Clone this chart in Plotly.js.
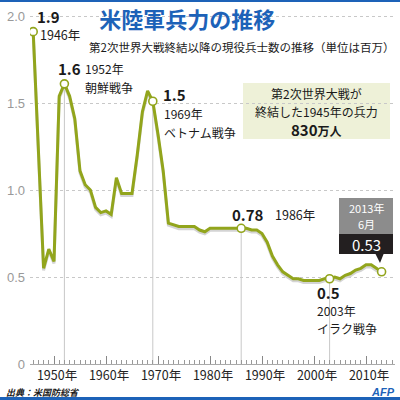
<!DOCTYPE html>
<html>
<head>
<meta charset="utf-8">
<script src="https://cdn.plot.ly/plotly-3.0.1.min.js"></script>
<style>html,body{margin:0;padding:0;background:#fff;}#chart{width:400px;height:400px;}</style>
</head>
<body>
<div id="chart"></div>
<script>
// ---- data ----
const years = [1946, 1948, 1949, 1950, 1951, 1952, 1953, 1954, 1955, 1956, 1957, 1958, 1959,
  1960, 1961, 1962, 1963, 1964, 1965, 1966, 1967, 1968, 1969, 1970, 1971, 1972, 1973, 1974,
  1975, 1976, 1977, 1978, 1979, 1980, 1981, 1982, 1983, 1984, 1985, 1986, 1987, 1988, 1989,
  1990, 1991, 1992, 1993, 1994, 1995, 1996, 1997, 1998, 1999, 2000, 2001, 2002, 2003, 2004,
  2005, 2006, 2007, 2008, 2009, 2010, 2011, 2012, 2013];
const values = [1.91, 0.55, 0.66, 0.59, 1.54, 1.61, 1.54, 1.41, 1.11, 1.03, 1.00, 0.90, 0.87,
  0.88, 0.86, 1.07, 0.98, 0.98, 0.98, 1.20, 1.45, 1.57, 1.51, 1.32, 1.11, 0.81, 0.80, 0.79,
  0.79, 0.79, 0.79, 0.77, 0.76, 0.78, 0.78, 0.78, 0.78, 0.78, 0.78, 0.78, 0.78, 0.77, 0.77,
  0.75, 0.70, 0.62, 0.57, 0.53, 0.51, 0.49, 0.49, 0.48, 0.48, 0.48, 0.48, 0.49, 0.49, 0.50,
  0.49, 0.51, 0.52, 0.54, 0.55, 0.57, 0.57, 0.55, 0.53];
const highlightYears = [1946, 1952, 1969, 1986, 2003, 2013];
const highlightLabels = ['1.9', '1.6', '1.5', '0.78', '0.5', '0.53'];
const highlightNotes = [['1946年'], ['1952年', '朝鮮戦争'], ['1969年', 'ベトナム戦争'], ['1986年'], ['2003年', 'イラク戦争'], ['2013年', '6月']];
const dropLineYears = [1952, 1969, 1986, 2003];
const tickYears = [1950, 1960, 1970, 1980, 1990, 2000, 2010];
const tickLabels = ['1950年', '1960年', '1970年', '1980年', '1990年', '2000年', '2010年'];
const yTickVals = [0, 0.5, 1.0, 1.5, 2.0];
const yTickLabels = ['0', '0.5', '1.0', '1.5', '2.0'];
const titleText = '米陸軍兵力の推移';
const subtitleText = '第2次世界大戦終結以降の現役兵士数の推移（単位は百万）';
const boxLines = ['第2次世界大戦が', '終結した1945年の兵力'];
const boxValue = '830';
const boxUnit = '万人';
const sourceText = '出典：米国防総省';

// ---- derived ----
const valueAt = y => values[years.indexOf(y)];
const highlightValues = highlightYears.map(valueAt);
const dropX = [], dropY = [];
dropLineYears.forEach(y => { dropX.push(y, y, null); dropY.push(0, valueAt(y), null); });

const FONT = '"Noto Sans CJK JP", "Noto Sans", sans-serif';
const GREEN = '#92a51c';
const L = 30, R = 5, T = 10, B = 36, W = 400, H = 400;
const PX = p => (p - L) / (W - L - R);
const PY = p => (H - B - p) / (H - T - B);

const traces = [
  {x: dropX, y: dropY, mode: 'lines', line: {color: '#c8c8c8', width: 1}, hoverinfo: 'skip'},
  {x: years, y: values.map(v => v - 0.012), mode: 'lines', line: {color: '#d4d4d4', width: 3}, hoverinfo: 'skip'},
  {x: years, y: values, mode: 'lines', line: {color: GREEN, width: 3}},
  {x: highlightYears, y: highlightValues, mode: 'markers',
   marker: {size: 8, color: '#ffffff', line: {color: GREEN, width: 1.6}}}
];

const ann = [];
function txt(x, y, text, size, opts) {
  ann.push(Object.assign({xref: 'paper', yref: 'paper', x: PX(x), y: PY(y), text: text,
    showarrow: false, xanchor: 'left', yanchor: 'middle', borderpad: 0,
    font: {family: FONT, size: size, color: '#1a1a1a'}}, opts || {}));
}
function lines(x, y0, step, arr, size, opts) {
  arr.forEach((t, i) => txt(x, y0 + i * step, t, size, opts));
}
// highlight labels
txt(36, 17, '<b>' + highlightLabels[0] + '</b>', 15);
lines(39, 34, 18, highlightNotes[0], 12.5);
txt(57, 69, '<b>' + highlightLabels[1] + '</b>', 15);
lines(84, 69, 18, highlightNotes[1], 12);
txt(162, 95, '<b>' + highlightLabels[2] + '</b>', 15);
lines(163, 114, 18, highlightNotes[2], 12);
txt(231, 214, '<b>' + highlightLabels[3] + '</b>', 15);
lines(274, 214, 18, highlightNotes[3], 12.5);
txt(316, 292, '<b>' + highlightLabels[4] + '</b>', 15);
lines(316, 310, 18, highlightNotes[4], 12);
// callout
lines(366, 208, 16, highlightNotes[5], 11, {xanchor: 'center', font: {family: FONT, size: 11, color: '#ffffff'}});
txt(366, 244, highlightLabels[5], 15, {xanchor: 'center', font: {family: FONT, size: 15, color: '#ffffff'}});
// info box
txt(316, 93, boxLines[0], 12, {xanchor: 'center'});
txt(316, 111, boxLines[1], 12, {xanchor: 'center'});
txt(316, 129, '<b><span style="font-size:15px">' + boxValue + '</span>' + boxUnit + '</b>', 12, {xanchor: 'center'});
// subtitle
txt(395, 47, subtitleText, 11.5, {xanchor: 'right'});
// source & logo
txt(5, 392, '<b><i>' + sourceText + '</i></b>', 9);
txt(396, 392, '<b><i>AFP</i></b>', 11, {xanchor: 'right', font: {family: '"Liberation Sans", Arial, sans-serif', size: 11, color: '#1d62b8'}});

const shapes = [
  {type: 'rect', xref: 'paper', yref: 'paper', x0: PX(243), x1: PX(390), y0: PY(139), y1: PY(83),
   fillcolor: '#eef1d8', line: {width: 0}, layer: 'below'},
  {type: 'rect', xref: 'paper', yref: 'paper', x0: PX(339), x1: PX(393), y0: PY(234), y1: PY(198),
   fillcolor: '#8c8c8c', line: {width: 0}},
  {type: 'rect', xref: 'paper', yref: 'paper', x0: PX(339), x1: PX(393), y0: PY(254), y1: PY(234),
   fillcolor: '#231f20', line: {width: 0}},
  {type: 'path', xref: 'paper', yref: 'paper',
   path: 'M ' + PX(375) + ' ' + PY(253) + ' L ' + PX(384) + ' ' + PY(253) + ' L ' + PX(380) + ' ' + PY(263) + ' Z',
   fillcolor: '#231f20', line: {width: 0}},
  {type: 'rect', xref: 'paper', yref: 'paper', x0: PX(0), x1: PX(400), y0: PY(2), y1: PY(0),
   fillcolor: '#1d62b8', line: {width: 0}},
  {type: 'rect', xref: 'paper', yref: 'paper', x0: PX(0), x1: PX(400), y0: PY(400), y1: PY(397),
   fillcolor: '#1d62b8', line: {width: 0}}
];

const layout = {
  width: W, height: H,
  margin: {l: L, r: R, t: T, b: B, pad: 0},
  paper_bgcolor: '#ffffff', plot_bgcolor: '#ffffff',
  showlegend: false,
  title: {text: '<b>' + titleText + '</b>', x: 0.468, xanchor: 'center', y: 0.95, yanchor: 'middle',
          font: {family: FONT, size: 22, color: '#1d62b8'}},
  xaxis: {range: [1950 + (L - 54) / 5.2, 1950 + (W - R - 54) / 5.2],
          tickvals: tickYears, ticktext: tickLabels, ticks: 'inside', ticklen: 8, tickcolor: '#888',
          tickwidth: 1, showgrid: false, zeroline: false, showline: true, linecolor: '#aaaaaa', linewidth: 1,
          minor: {dtick: 1, tick0: 1950, ticks: 'inside', ticklen: 4, tickcolor: '#999', showgrid: false},
          tickfont: {family: FONT, size: 12.5, color: '#222'}, ticklabelshift: 3, ticklabelstandoff: 0,
          fixedrange: true},
  yaxis: {range: [0, (H - B - T) / 174], tickvals: yTickVals, ticktext: yTickLabels,
          showgrid: true, gridcolor: '#c8c8c8', griddash: 'dot', gridwidth: 1, zeroline: false,
          showline: false, ticks: '', tickfont: {family: '"Liberation Sans", Arial, sans-serif', size: 13, color: '#999'},
          ticklabelstandoff: 4, fixedrange: true},
  annotations: ann,
  shapes: shapes
};

Plotly.newPlot('chart', traces, layout, {displayModeBar: false, staticPlot: true});
</script>
</body>
</html>
